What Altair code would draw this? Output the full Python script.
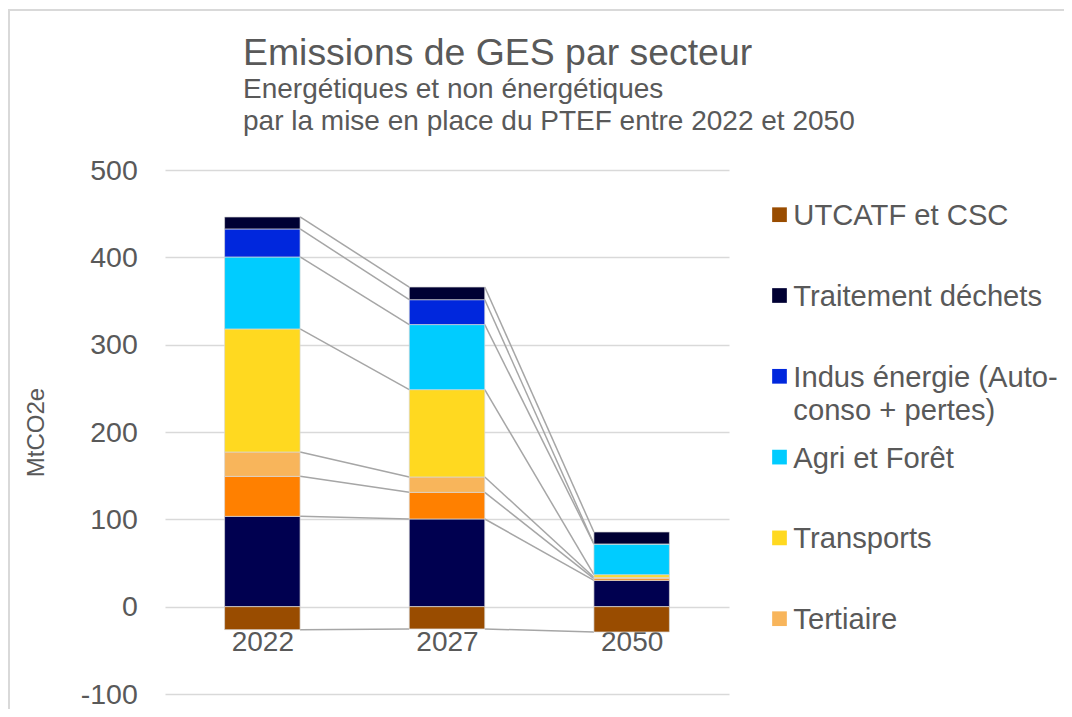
import altair as alt
import pandas as pd

# ---- data ----
years = ["2022", "2027", "2050"]
stack_sectors = [
    "Industrie",
    "Résidentiel",
    "Tertiaire",
    "Transports",
    "Agri et Forêt",
    "Indus énergie (Auto-conso + pertes)",
    "Traitement déchets",
]
industrie = [103.4, 100.4, 30.1]
residentiel = [45.8, 30.5, 2.0]
tertiaire = [27.9, 17.6, 1.5]
transports = [140.9, 100.0, 3.0]
agri_foret = [82.4, 74.5, 35.2]
indus_energie = [32.1, 28.5, 0.0]
dechets = [13.7, 14.5, 13.7]
utcatf = [-26.3, -25.5, -29.0]
negative_sector = "UTCATF et CSC"

legend_labels = [
    "UTCATF et CSC",
    "Traitement déchets",
    "Indus énergie (Auto-conso + pertes)",
    "Agri et Forêt",
    "Transports",
    "Tertiaire",
]
sector_colors = {
    "Industrie": "#000050",
    "Résidentiel": "#FF8000",
    "Tertiaire": "#F8B55B",
    "Transports": "#FFD920",
    "Agri et Forêt": "#00CCFF",
    "Indus énergie (Auto-conso + pertes)": "#0027DD",
    "Traitement déchets": "#000033",
    "UTCATF et CSC": "#994C00",
}
y_ticks = [-100, 0, 100, 200, 300, 400, 500]

# ---- tables built from the arrays ----
series = [industrie, residentiel, tertiaire, transports, agri_foret, indus_energie, dechets]
bar_rows = []
boundaries = []  # per year: cumulative tops + negative bottom
for i, yr in enumerate(years):
    base = 0.0
    tops = []
    for name, vals in zip(stack_sectors, series):
        bar_rows.append(dict(idx=i, year=yr, sector=name, y0=base, y1=base + vals[i]))
        base += vals[i]
        tops.append(base)
    bar_rows.append(dict(idx=i, year=yr, sector=negative_sector, y0=0.0, y1=utcatf[i]))
    tops.append(utcatf[i])
    boundaries.append(tops)
bars_df = pd.DataFrame(bar_rows)

rule_rows = []
for i in range(len(years) - 1):
    for k in range(len(boundaries[i])):
        rule_rows.append(dict(idx=i, idx2=i + 1, ya=boundaries[i][k], yb=boundaries[i + 1][k]))
rules_df = pd.DataFrame(rule_rows)

legend_df = pd.DataFrame({
    "pos": list(range(len(legend_labels))),
    "sector": legend_labels,
    "display": [s.replace("(Auto-", "(Auto-\n") for s in legend_labels],
})

all_sectors = stack_sectors + [negative_sector]
color_scale = alt.Scale(domain=all_sectors, range=[sector_colors[s] for s in all_sectors])
x_scale = alt.Scale(domain=[-0.5, len(years) - 0.5], nice=False, zero=False)
y_scale = alt.Scale(domain=[-100, 500], nice=False, zero=False)
label_expr = "[" + ",".join("'%s'" % y for y in years) + "][datum.value]"

TXT = "#595959"
PLOT_W, PLOT_H = 564, 524

frame = alt.Chart(pd.DataFrame({"f": [0]})).mark_rect(
    fillOpacity=0, stroke="#D9D9D9", strokeWidth=2
).encode(
    x=alt.value(-156), x2=alt.value(920), y=alt.value(-160), y2=alt.value(600)
)

bars = alt.Chart(bars_df).mark_bar(size=75.5, stroke="#D9D9D9", strokeWidth=0.7).encode(
    x=alt.X(
        "idx:Q",
        scale=x_scale,
        axis=alt.Axis(
            values=list(range(len(years))),
            labelExpr=label_expr,
            title=None,
            grid=False,
            domain=False,
            ticks=False,
            tickSize=0,
            offset=-87.3,
            labelPadding=22,
            labelFontSize=28,
            labelColor=TXT,
        ),
    ),
    y=alt.Y(
        "y0:Q",
        scale=y_scale,
        axis=alt.Axis(
            values=y_ticks,
            labelExpr="'' + datum.value",
            title="MtCO2e",
            grid=True,
            gridColor="#D9D9D9",
            gridWidth=1.5,
            domain=False,
            ticks=False,
            tickSize=0,
            labelPadding=27.7,
            labelFontSize=28.5,
            labelColor=TXT,
            titleFontSize=24,
            titleColor=TXT,
            titleFontWeight="normal",
            titlePadding=32,
        ),
    ),
    y2="y1:Q",
    color=alt.Color("sector:N", scale=color_scale, legend=None),
)

rules = alt.Chart(rules_df).mark_rule(
    color="#A6A6A6", strokeWidth=1.5, xOffset=37.75, x2Offset=-37.75
).encode(
    x=alt.X("idx:Q", scale=x_scale),
    x2="idx2:Q",
    y=alt.Y("ya:Q", scale=y_scale, axis=None),
    y2="yb:Q",
)

leg_y = alt.Y(
    "pos:Q",
    scale=alt.Scale(domain=[0, len(legend_labels) - 1], range=[44.7, 448.7], nice=False, zero=False),
    axis=None,
)

leg_sq = alt.Chart(legend_df).mark_square(size=216, opacity=1).encode(
    x=alt.value(614.5),
    y=leg_y,
    color=alt.Color("sector:N", scale=color_scale, legend=None),
)

leg_txt = alt.Chart(legend_df).mark_text(
    align="left", baseline="alphabetic", dy=10.4, fontSize=29.2,
    lineBreak="\n", lineHeight=33.5, color=TXT,
).encode(
    x=alt.value(628.3),
    y=leg_y,
    text="display:N",
)

chart = alt.layer(frame, rules, bars, leg_sq, leg_txt).resolve_scale(
    y="independent"
).properties(
    width=PLOT_W,
    height=PLOT_H,
    autosize=alt.AutoSizeParams(type="none"),
    padding={"left": 157, "top": 162, "right": 335, "bottom": 15},
    title=alt.Title(
        "Emissions de GES par secteur",
        subtitle=["Energétiques et non énergétiques", "par la mise en place du PTEF entre 2022 et 2050"],
        anchor="start",
        frame="group",
        dx=78,
        offset=-127,
        fontSize=37.4,
        fontWeight="normal",
        color=TXT,
        subtitleFontSize=28,
        subtitleColor=TXT,
        subtitleLineHeight=32,
        subtitlePadding=4,
    ),
).configure(
    font="Liberation Sans"
).configure_view(
    stroke="transparent"
)

chart.save("out.html", embed_options={"renderer": "svg", "actions": False})
